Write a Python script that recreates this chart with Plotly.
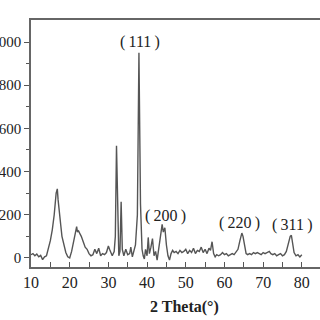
import plotly.graph_objects as go

two_theta = [10, 10.5, 11, 11.5, 12, 12.5, 13, 13.5, 14, 14.5, 15, 15.5, 16, 16.5, 16.8, 17.0, 17.3, 17.7, 18, 18.5, 19, 19.5, 20, 20.5, 21, 21.5, 21.8, 22.0, 22.3, 22.7, 23, 23.5, 24, 24.5, 25, 25.5, 26, 26.5, 27, 27.5, 28, 28.5, 29, 29.5, 30, 30.3, 30.7, 31, 31.5, 31.8, 32.1, 32.4, 32.7, 33.0, 33.3, 33.6, 34, 34.5, 35, 35.5, 35.8, 36.2, 36.6, 37, 37.5, 37.9, 38.3, 38.7, 39, 39.3, 39.6, 40, 40.3, 40.6, 41, 41.4, 41.8, 42.2, 42.6, 43, 43.5, 43.9, 44.2, 44.6, 45, 45.4, 45.8, 46.2, 46.6, 47, 47.5, 48, 48.5, 49, 49.5, 50, 50.5, 51, 51.5, 52, 52.5, 53, 53.5, 54, 54.5, 55, 55.5, 56, 56.4, 56.8, 57.2, 57.6, 58, 58.5, 59, 59.5, 60, 60.5, 61, 61.5, 62, 62.5, 63, 63.5, 64, 64.5, 64.8, 65.2, 65.6, 66, 66.5, 67, 67.5, 68, 68.5, 69, 69.5, 70, 70.5, 71, 71.6, 72, 72.5, 73, 73.5, 74, 74.5, 75, 75.5, 76, 76.5, 77.0, 77.3, 77.7, 78, 78.5, 79, 79.5, 80]
intensity = [15, 20, 10, 18, 5, 12, -8, 5, 10, 40, 80, 130, 200, 300, 320, 270, 200, 150, 100, 60, 25, 5, 0, 30, 70, 110, 145, 120, 125, 110, 100, 75, 50, 40, 20, 10, 15, 40, 20, 45, 10, 20, 15, 25, 55, 40, 20, 10, 30, 100, 520, 150, 10, 30, 260, 40, 10, 40, 15, 20, 50, 5, 30, 60, 200, 950, 250, 40, 10, -5, 40, 10, 95, 20, 50, 90, 10, 30, -10, 40, 100, 155, 120, 140, 60, 10, -10, 20, 35, 25, 30, 20, 35, 25, 30, 40, 20, 35, 25, 45, 20, 35, 30, 50, 25, 40, 20, 45, 35, 75, 20, 5, 15, 10, 15, 25, 15, 20, 10, 15, 20, 15, 25, 40, 80, 115, 100, 50, 20, 15, 20, 15, 25, 20, 25, 20, 15, 25, 20, 25, 30, 20, 15, 20, 10, 15, 20, 10, 15, 30, 60, 100, 105, 60, 25, 10, 15, 5, 15]

peak_labels = ["(\u2009111\u2009)", "(\u2009200\u2009)", "(\u2009220\u2009)", "(\u2009311\u2009)"]
peak_x = [38.1, 44.8, 63.8, 77.5]
peak_y = [1001, 195, 163, 153]

font_main = "Times New Roman, Liberation Serif, serif"

fig = go.Figure()
fig.add_trace(go.Scatter(x=two_theta, y=intensity, mode="lines",
                         line=dict(color="#555555", width=1.4), showlegend=False))

for t, xx, yy in zip(peak_labels, peak_x, peak_y):
    fig.add_annotation(x=xx, y=yy, text=t, showarrow=False,
                       font=dict(family=font_main, size=16, color="#222222"))

fig.add_annotation(xref="paper", yref="paper", x=0.53, y=-0.16, yanchor="middle",
                   text="<b>2 Theta(°)</b>", showarrow=False,
                   font=dict(family=font_main, size=16, color="#222222"))

fig.update_layout(
    width=320, height=320,
    margin=dict(l=31, r=0, t=20, b=53),
    paper_bgcolor="white", plot_bgcolor="white",
    font=dict(family=font_main, size=15, color="#222222"),
    xaxis=dict(range=[10, 84.7],
               ticks="inside", ticklen=5, tickwidth=1, tickcolor="#555",
               showline=True, linecolor="#666", linewidth=1.5, mirror=True,
               showgrid=False, zeroline=False, automargin=False,
               tickvals=[10, 20, 30, 40, 50, 60, 70, 80],
               tickfont=dict(size=16),
               minor=dict(tickvals=[15, 25, 35, 45, 55, 65, 75], ticks="inside", ticklen=5, tickcolor="#555")),
    yaxis=dict(range=[-42, 1102], tickvals=[0, 200, 400, 600, 800, 1000],
               ticktext=["0", "200", "400", "600", "800", "1000"],
               ticks="outside", ticklen=5, tickwidth=1, tickcolor="#555",
               showline=True, linecolor="#666", linewidth=1.5,
               showgrid=False, zeroline=False, automargin=False,
               tickfont=dict(size=15),
               minor=dict(tickvals=[100, 300, 500, 700, 900], ticks="outside", ticklen=3, tickcolor="#555")),
)

fig.write_html("out.html", config={"displayModeBar": False},
               post_script="document.body.style.margin='0';")
